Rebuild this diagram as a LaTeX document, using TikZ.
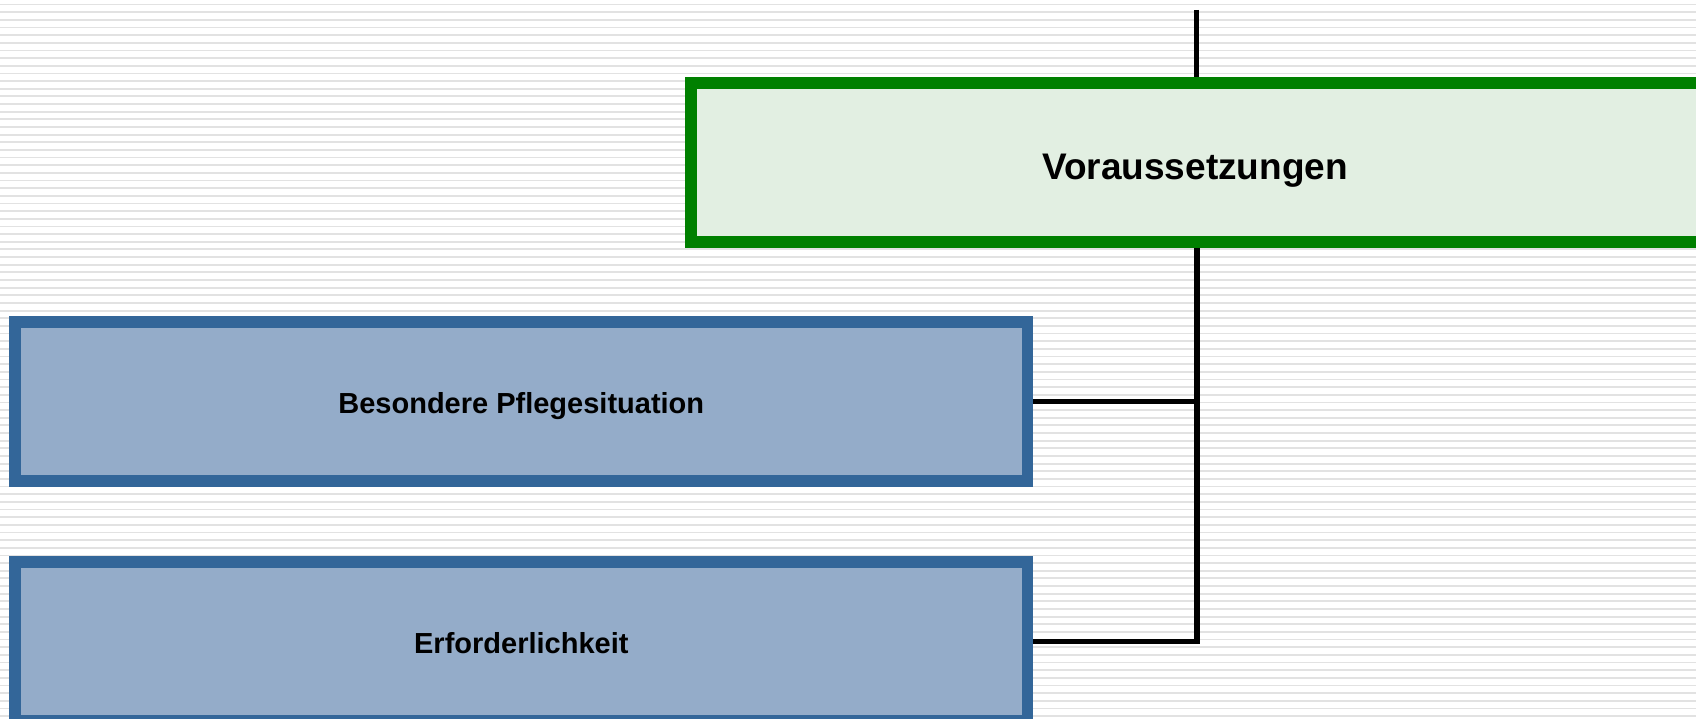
\documentclass[tikz,border=0pt]{standalone}
\usepackage{fontspec}
\setmainfont{Liberation Sans}
\definecolor{boxgreen}{RGB}{0,128,0}
\definecolor{greenfill}{RGB}{226,239,226}
\definecolor{boxblue}{RGB}{51,102,153}
\definecolor{bluefill}{RGB}{148,172,201}
\definecolor{stripe}{RGB}{226,226,226}
\tikzset{
  stripeline/.style={draw=stripe, line width=1.8pt},
  headbox/.style={draw=boxgreen, fill=greenfill, line width=12pt, inner sep=0pt, outer sep=6pt,
    minimum width=1040pt, minimum height=159pt, text height=34pt, text depth=0pt,
    font=\bfseries\fontsize{37}{44}\selectfont},
  itembox/.style={draw=boxblue, fill=bluefill, line width=11.7pt, inner sep=0pt, outer sep=5.85pt,
    minimum width=1012.3pt, minimum height=159pt, text height=24pt, text depth=0pt,
    font=\bfseries\fontsize{29}{35}\selectfont},
  conn/.style={draw=black, line width=5.5pt}
}
\begin{document}
\begin{tikzpicture}[x=1pt,y=-1pt]
\useasboundingbox (0,0) rectangle (1696,719);
\clip (0,0) rectangle (1696,719);
\fill[white] (0,0) rectangle (1696,719);
\foreach \k in {0,...,94} {
  \draw[stripeline] (0,4.6+7.65*\k) -- (1696,4.6+7.65*\k);
}
\coordinate (top) at (1196.5,10);
\coordinate (trunk) at (1197,300);
\node[headbox] (head) at (1211,162.5) {\hspace*{-32pt}Voraussetzungen};
\node[itembox] (b1) at (521.3,401.5) {Besondere Pflegesituation};
\node[itembox] (b2) at (521.3,641.5) {Erforderlichkeit};
\draw[conn] (top) -- (top |- head.north);
\draw[conn] (head.south -| trunk) -- (trunk |- b2.east) -- (b2.east);
\draw[conn] (b1.east) -- (b1.east -| trunk);
\end{tikzpicture}
\end{document}
